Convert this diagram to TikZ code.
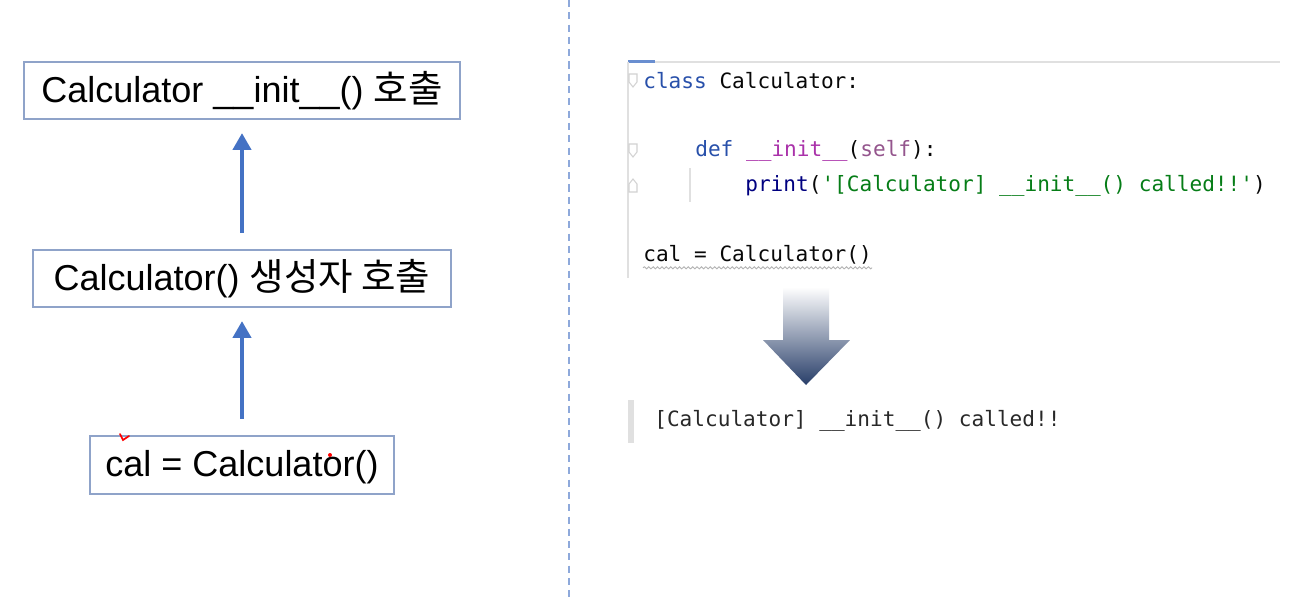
\documentclass[tikz,border=0pt]{standalone}
\usepackage{fontspec}
\setmainfont{Liberation Sans}
\setmonofont{DejaVu Sans Mono}
\newfontfamily\kr[Scale=1.04]{Noto Sans CJK KR}
\usepackage{tikz}
\usetikzlibrary{arrows.meta, decorations.pathmorphing}
\definecolor{boxline}{RGB}{143,163,201}
\definecolor{flowblue}{RGB}{68,114,196}
\definecolor{splitline}{RGB}{142,169,219}
\definecolor{kwblue}{RGB}{40,80,170}
\definecolor{dunder}{RGB}{170,50,170}
\definecolor{selfpink}{RGB}{148,85,141}
\definecolor{strgreen}{RGB}{6,125,23}
\definecolor{printnavy}{RGB}{0,0,128}
\definecolor{codetext}{RGB}{8,8,8}
\definecolor{outtext}{RGB}{40,40,40}
\definecolor{guttergrey}{RGB}{224,224,224}
\definecolor{arrowdark}{RGB}{40,62,105}

\begin{document}
\begin{tikzpicture}[x=0.02cm, y=-0.02cm,
  stepbox/.style={draw=boxline, line width=0.8pt, inner sep=0pt,
    minimum height=1.14cm, text height=18pt, text depth=4.5pt,
    font=\fontsize{20.5}{24}\selectfont},
  uparrow/.style={flowblue, line width=2.8pt,
    -{Triangle[length=9.6pt, width=10.2pt]},
    shorten <=9.3pt, shorten >=7.6pt},
  codeline/.style={anchor=west, inner sep=0pt, text=codetext,
    font=\ttfamily\fontsize{12}{14}\selectfont},
  foldmark/.style={draw=guttergrey!80!black!60, line width=0.6pt}]
\useasboundingbox (0,0) rectangle (1309,599);
\fill[white] (0,0) rectangle (1309,599);

%the call chain
\node[stepbox, minimum width=8.72cm] (init) at (242,90.5)
  {Calculator \_\_init\_\_() {\kr 호출}};
\node[stepbox, minimum width=8.36cm] (ctor) at (242,278.5)
  {Calculator() {\kr 생성자 호출}};
\node[stepbox, minimum width=6.08cm, minimum height=1.16cm] (cal) at (242,465)
  {cal = Calculator()};
\draw[uparrow] (ctor.north) -- (init.south);
\draw[uparrow] (cal.north) -- (ctor.south);
%pen marks
\draw[red, line width=1pt, line cap=round] (120,434) -- (123,440) -- (129,436);
\fill[red] (330,455) circle (2);

%the split
\draw[splitline, line width=1.2pt, dash pattern=on 4pt off 3pt] (569,0) -- (569,599);

%the editor
\draw[guttergrey, line width=1.2pt] (628,62) -- (1280,62);
\draw[flowblue!80, line width=2pt] (628,61.5) -- (655,61.5);
\draw[guttergrey, line width=1.4pt] (628,62) -- (628,278);
\draw[guttergrey, line width=0.8pt] (690,168) -- (690,202);
\draw[foldmark] (629,74) -- (637,74) -- (637,82) -- (633,87) -- (629,82) -- cycle;
\draw[foldmark] (629,144) -- (637,144) -- (637,152) -- (633,157) -- (629,152) -- cycle;
\draw[foldmark] (629,192) -- (637,192) -- (637,184) -- (633,179) -- (629,184) -- cycle;

\node[codeline] (cls) at (643,81)
  {\textcolor{kwblue}{class} Calculator:};
\node[codeline] (def) at (695,151)
  {\textcolor{kwblue}{def} \textcolor{dunder}{\_\_init\_\_}(\textcolor{selfpink}{self}):};
\node[codeline] (prt) at (745,186)
  {\textcolor{printnavy}{print}(\textcolor{strgreen}{'[Calculator] \_\_init\_\_() called!!'})};
\node[codeline] (call) at (643,255) {cal = Calculator()};
\draw[gray!60, line width=0.5pt, decorate,
  decoration={snake, amplitude=0.6pt, segment length=2.5pt}]
  (call.south west) ++(0,3) -- ++(229,0);

%the result
\shade[top color=white, middle color=arrowdark!30, bottom color=arrowdark]
  (783,287) -- (829,287) -- (829,340) -- (850,340) -- (806,385)
  -- (763,340) -- (783,340) -- cycle;
\fill[guttergrey] (628,400) rectangle (634,443);
\node[codeline, text=outtext] (out) at (654,421)
  {[Calculator] \_\_init\_\_() called!!};
\end{tikzpicture}
\end{document}
